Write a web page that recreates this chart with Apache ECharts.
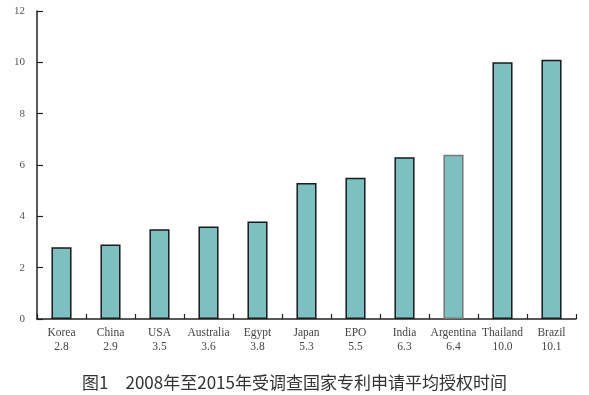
<!DOCTYPE html>
<html><head><meta charset="utf-8">
<script src="https://cdn.jsdelivr.net/npm/echarts@6/dist/echarts.min.js"></script>
<style>html,body{margin:0;padding:0;background:#fff;}#c{width:589px;height:395px;}</style>
</head><body><div id="c"></div>
<script>
var categories = ['Korea','China','USA','Australia','Egypt','Japan','EPO','India','Argentina','Thailand','Brazil'];
var valueLabels = ['2.8','2.9','3.5','3.6','3.8','5.3','5.5','6.3','6.4','10.0','10.1'];
var values = [2.8, 2.9, 3.5, 3.6, 3.8, 5.3, 5.5, 6.3, 6.4, 10.0, 10.1];
var yTicks = [0, 2, 4, 6, 8, 10, 12];
var caption = '图1　2008年至2015年受调查国家专利申请平均授权时间';

var chart = echarts.init(document.getElementById('c'), null, {renderer:'canvas'});
chart.setOption({
  animation: false,
  backgroundColor: '#fff',
  title: {
    text: caption, left: 'center', top: 369,
    textStyle: {fontFamily: '"Noto Sans CJK SC","Noto Sans",sans-serif', fontSize: 17, fontWeight: 'normal', color: '#333'}
  },
  grid: {left: 37, right: 13, top: 11, bottom: 76, containLabel: false},
  xAxis: {
    type: 'category', data: categories,
    axisLine: {lineStyle: {color: '#222', width: 1.5}},
    axisTick: {show: true, inside: true, length: 5, lineStyle: {color: '#222', width: 1.2}},
    axisLabel: {
      interval: 0, margin: 7, lineHeight: 14,
      fontFamily: '"Liberation Serif","DejaVu Serif",serif', fontSize: 11.5, color: '#444',
      formatter: function (v, i) { return v + '\n' + valueLabels[i]; }
    }
  },
  yAxis: {
    type: 'value', min: 0, max: 12, interval: 2,
    axisLine: {show: true, lineStyle: {color: '#222', width: 1.5}},
    axisTick: {show: true, inside: true, length: 6, lineStyle: {color: '#222', width: 1.2}},
    splitLine: {show: false},
    axisLabel: {
      margin: 12, fontFamily: '"Liberation Serif","DejaVu Serif",serif', fontSize: 11, color: '#555',
      formatter: function (v) { return yTicks.indexOf(v) >= 0 ? String(v) : ''; }
    }
  },
  series: [{
    type: 'bar', barWidth: '41%',
    data: values.map(function (v, i) {
      return {value: v, itemStyle: {borderColor: categories[i] === 'Argentina' ? '#777' : '#1a1a1a'}};
    }),
    itemStyle: {color: '#7cc0c1', borderColor: '#1a1a1a', borderWidth: 1.5}
  }]
});
</script></body></html>
